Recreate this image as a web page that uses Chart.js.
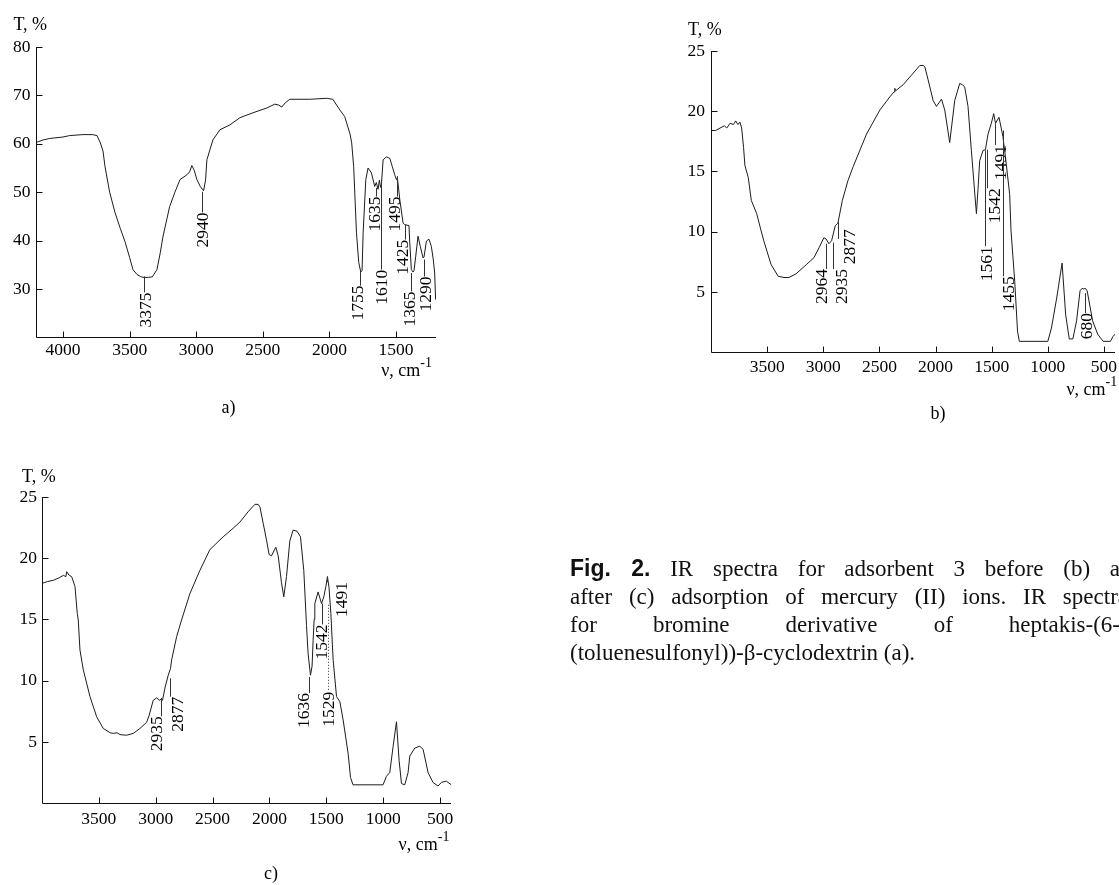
<!DOCTYPE html>
<html>
<head>
<meta charset="utf-8">
<script src="https://cdn.jsdelivr.net/npm/chart.js@4.4.0/dist/chart.umd.min.js"></script>
<style>
  html, body { margin: 0; padding: 0; background: #fff; }
  body { width: 1119px; height: 885px; position: relative; overflow: hidden; }
  canvas { position: absolute; left: 0; top: 0; }
  #caption { position: absolute; left: 570px; top: 554px; width: 600px;
             font: 23px/28px 'Liberation Serif', 'Times New Roman', serif; color: #111; }
  #caption p { margin: 0; text-align: justify; }
  #caption p.j { text-align-last: justify; }
  #caption b { font-family: 'Liberation Sans', Arial, sans-serif; }
</style>
</head>
<body>
<canvas id="chartA" width="1119" height="885"></canvas>
<canvas id="chartB" width="1119" height="885"></canvas>
<canvas id="chartC" width="1119" height="885"></canvas>
<div id="caption">
  <p class="j" style="width:573px"><b>Fig. 2.</b> IR spectra for adsorbent 3 before (b) and</p>
  <p class="j" style="width:558px">after (c) adsorption of mercury (II) ions. IR spectra</p>
  <p class="j" style="width:550px">for bromine derivative of heptakis-(6-</p>
  <p>(toluenesulfonyl))-β-cyclodextrin (a).</p>
</div>
<script>
// a) bromine derivative of heptakis-(6-(toluenesulfonyl))-b-cyclodextrin
const nuA = [4200, 4150, 4100, 4000, 3950, 3850, 3780, 3745, 3720, 3700, 3685, 3660, 3650, 3610, 3570, 3535,
  3500, 3475, 3445, 3420, 3400, 3360, 3330, 3295, 3270, 3250, 3220, 3200, 3160, 3122, 3070, 3050, 3033, 3015,
  2995, 2970, 2945, 2930, 2920, 2875, 2822, 2748, 2672, 2575, 2470, 2410, 2380, 2358, 2330, 2298, 2148, 2020,
  1975, 1922, 1885, 1862, 1845, 1833, 1818, 1797, 1780, 1765, 1755, 1747, 1727, 1710, 1685, 1660, 1648, 1635,
  1625, 1616, 1610, 1597, 1572, 1547, 1528, 1510, 1497, 1490, 1485, 1472, 1447, 1435, 1403, 1397, 1385, 1372,
  1365, 1352, 1335, 1318, 1297, 1290, 1272, 1253, 1235, 1220, 1210, 1203];
const tA = [60.3, 60.8, 61.1, 61.4, 61.7, 61.9, 61.9, 61.7, 60.2, 58.5, 55.3, 51.5, 50, 45.8, 42.5, 39.8,
  36.5, 34, 33, 32.6, 32.4, 32.4, 32.5, 34, 37.5, 40.8, 44.5, 47, 50, 52.6, 53.6, 54.2, 55.5, 54.5,
  52.6, 51.2, 50.3, 52.5, 56.7, 60.8, 62.9, 63.9, 65.4, 66.4, 67.4, 68.2, 68, 67.6, 68.5, 69.2, 69.2, 69.4,
  69.2, 67, 65.6, 63.5, 62, 60.2, 55.3, 41.6, 35.5, 33.5, 33.8, 41.6, 52.6, 55, 54, 51.2, 52, 50.6,
  52.5, 51, 51.5, 56.7, 57.3, 57, 55.3, 53.6, 52.6, 53, 51.8, 48.5, 43.6, 43.3, 43.1, 39.6, 34, 33.5,
  33.8, 36.8, 40.9, 38.8, 36.4, 36.6, 39.9, 40.3, 38.8, 36, 33.3, 27.8];
const peaksA = [3375, 2940, 1755, 1635, 1610, 1495, 1425, 1365, 1290];

// b) adsorbent 3 before adsorption
const nuB = [4000, 3960, 3920, 3880, 3860, 3830, 3800, 3780, 3760, 3742, 3727, 3710, 3698, 3668, 3641, 3593,
  3560, 3530, 3466, 3402, 3350, 3306, 3243, 3147, 3083, 3036, 2995, 2975, 2950, 2926, 2893, 2870, 2830, 2780,
  2734, 2615, 2496, 2407, 2370, 2363, 2355, 2289, 2214, 2140, 2110, 2096, 2066, 2022, 1992, 1947, 1918, 1874,
  1829, 1785, 1760, 1740, 1711, 1681, 1651, 1636, 1622, 1607, 1577, 1556, 1533, 1503, 1482, 1466, 1435, 1400,
  1370, 1340, 1328, 1295, 1270, 1254, 1000, 968, 921, 873, 841, 809, 777, 744, 713, 695, 681, 665,
  650, 601, 556, 507, 443, 420, 400];
const tB = [18.4, 18.4, 18.6, 18.8, 18.6, 19.0, 18.9, 19.2, 18.9, 19.1, 18.6, 17, 15.5, 14.5, 12.6, 11.5,
  10.3, 9.25, 7.3, 6.3, 6.2, 6.2, 6.5, 7.3, 7.85, 8.7, 9.5, 9.4, 9.0, 9.25, 10.5, 10.7, 12.6, 14.25,
  15.4, 18.1, 20.1, 21.2, 21.6, 21.9, 21.7, 22.2, 23, 23.8, 23.8, 23.7, 22.6, 20.9, 20.4, 21, 20.1, 17.4,
  20.9, 22.3, 22.2, 22.0, 20.4, 16.75, 13.2, 11.5, 13.5, 15.9, 16.75, 16.8, 18.1, 19, 19.8, 19, 19.5, 17.9,
  15.6, 13.1, 10.1, 5.9, 1.75, 0.9, 0.9, 2.0, 4.5, 7.4, 3.1, 1.1, 1.1, 2.6, 5.1, 5.3, 5.25, 5.3,
  5.1, 2.6, 1.5, 0.9, 0.9, 1.3, 1.5];
const peaksB = [2964, 2935, 2877, 1561, 1542, 1491, 1455, 680];

// c) adsorbent 3 after adsorption of Hg(II)
const nuC = [4000, 3950, 3900, 3850, 3812, 3790, 3783, 3760, 3739, 3710, 3690, 3681, 3666, 3637, 3578, 3519,
  3461, 3400, 3373, 3340, 3314, 3256, 3197, 3139, 3080, 3057, 3022, 2992, 2969, 2950, 2940, 2919, 2890, 2870,
  2860, 2816, 2773, 2700, 2612, 2524, 2407, 2319, 2260, 2187, 2128, 2100, 2084, 2055, 2026, 2003, 1982, 1944,
  1923, 1894, 1874, 1850, 1821, 1792, 1757, 1727, 1698, 1674, 1660, 1639, 1625, 1616, 1607, 1601, 1572, 1542,
  1522, 1504, 1490, 1476, 1460, 1440, 1410, 1381, 1352, 1308, 1287, 1265, 1001, 971, 942, 913, 883, 860,
  839, 810, 781, 766, 722, 678, 649, 605, 562, 518, 488, 444, 430, 400];
const tC = [17.95, 18.1, 18.2, 18.4, 18.6, 18.5, 18.9, 18.6, 18.5, 17.7, 15.5, 14.95, 12.5, 10.9, 8.7, 7.05,
  6.1, 5.75, 5.7, 5.75, 5.6, 5.55, 5.7, 6.1, 6.6, 7.2, 8.4, 8.6, 8.4, 8.5, 8.4, 9.4, 10.45, 11,
  11.7, 13.6, 14.95, 17.1, 19, 20.7, 21.75, 22.45, 22.95, 23.8, 24.4, 24.4, 24.2, 22.85, 21.5, 20.3, 20.2, 20.9,
  20.2, 18.0, 16.85, 18.5, 21.4, 22.3, 22.2, 21.75, 19, 14.5, 12.2, 10.45, 11.2, 13.3, 15, 16.3, 17.25, 16.3,
  16.85, 17.7, 18.5, 17.6, 15.5, 11.7, 8.7, 8.3, 6.8, 4.05, 2.1, 1.5, 1.5, 2.2, 2.5, 4.6, 6.65, 3.5,
  1.6, 1.5, 2.5, 3.85, 4.5, 4.65, 4.4, 2.5, 1.7, 1.4, 1.7, 1.8, 1.7, 1.5];
const peaksC = [2935, 2877, 1636, 1542, 1529, 1491];

const xTicksA = [4000, 3500, 3000, 2500, 2000, 1500];
const yTicksA = [30, 40, 50, 60, 70, 80];
const xTicksBC = [3500, 3000, 2500, 2000, 1500, 1000, 500];
const yTicksBC = [5, 10, 15, 20, 25];

// leader layout per peak label:
// [T at leader top, T at leader bottom, T at text top, text shift px, leader shift px, dotted]
const leadA = [[32.6, 29.3, 29.3, 6, -2], [50.1, 45.8, 45.8, 5, -2], [34, 30.7, 30.7, 2, -2],
  [50.9, 49.1, 49.1, 3, -2], [52.6, 34, 34, 5, 0], [53.3, 49.1, 49.1, 2, 0], [43.3, 40.2, 40.2, 2, -1],
  [33.3, 29.5, 29.5, 3, -3], [36.1, 32.6, 32.6, 6, 0]];
const leadB = [[9.0, 6.9, 6.9, 0, -1], [9.1, 6.9, 6.9, 13, 2], [10.8, 9.4, 10.2, 16, 1],
  [16.75, 8.8, 8.8, 6, 0], [16.8, 13.6, 13.6, 12, 0], [19, 17.2, 17.2, 10, 2], [18.4, 6.3, 6.3, 10, 6],
  [4.9, 3.25, 3.25, 6, 1]];
const leadC = [[8.6, 7.1, 7.1, 0, -2], [10.2, 8.7, 8.7, 12, 0], [10.3, 9.0, 9.0, -1, -2],
  [16.3, 14.6, 14.6, 4, 0], [16.2, 9.1, 9.1, 5, 5, true], [18.5, 18.05, 18.05, 19, 0]];

Chart.defaults.font.family = "'Liberation Serif', 'Times New Roman', serif";
Chart.defaults.color = '#000';

const SERIF = "'Liberation Serif', 'Times New Roman', serif";
const Y_W = 30, X_H = 40;

function framePlugin(o) {
  return {
    id: 'frame',
    afterDraw(chart) {
      const {ctx, chartArea: a, scales: {x, y}} = chart;
      ctx.save();
      ctx.strokeStyle = '#111';
      ctx.lineWidth = 1;
      const L = Math.round(a.left) + 0.5, B = Math.round(a.bottom) + 0.5;
      ctx.beginPath();
      ctx.moveTo(L, Math.round(a.top));
      ctx.lineTo(L, B);
      ctx.lineTo(Math.round(a.right), B);
      o.xTicks.forEach(v => {
        const px = Math.round(x.getPixelForValue(v)) + 0.5;
        ctx.moveTo(px, B); ctx.lineTo(px, B - 6);
      });
      o.yTicks.forEach(v => {
        const py = Math.round(y.getPixelForValue(v)) + 0.5;
        ctx.moveTo(L, py); ctx.lineTo(L + 6, py);
      });
      ctx.stroke();

      ctx.fillStyle = '#000';
      ctx.textBaseline = 'alphabetic';
      ctx.font = '18px ' + SERIF;
      ctx.textAlign = 'left';
      ctx.fillText('T, %', a.left + o.yTitle[0], a.top + o.yTitle[1]);

      const xr = a.right + o.xTitle[0], xb = a.bottom + o.xTitle[1];
      ctx.textAlign = 'right';
      ctx.font = '14px ' + SERIF;
      const supW = ctx.measureText('-1').width;
      ctx.fillText('-1', xr, xb - 9);
      ctx.font = '18px ' + SERIF;
      ctx.fillText('\u03BD, cm', xr - supW, xb);

      ctx.textAlign = 'center';
      ctx.fillText(o.tag, a.left + o.tagPos[0], a.bottom + o.tagPos[1]);

      // peak labels with leaders
      ctx.font = '17.5px ' + SERIF;
      ctx.strokeStyle = '#333';
      o.peaks.forEach((nu, i) => {
        const [t1, t2, t3, tdx, ldx, dotted] = o.lead[i];
        const lx = Math.round(x.getPixelForValue(nu) + ldx) + 0.5;
        ctx.beginPath();
        ctx.setLineDash(dotted ? [1, 2] : []);
        ctx.moveTo(lx, y.getPixelForValue(t1));
        ctx.lineTo(lx, y.getPixelForValue(t2));
        ctx.stroke();
        ctx.setLineDash([]);
        ctx.save();
        ctx.translate(lx + tdx, y.getPixelForValue(t3));
        ctx.rotate(-Math.PI / 2);
        ctx.textAlign = 'right';
        ctx.fillText(String(nu), 0, 0);
        ctx.restore();
      });
      ctx.restore();
    }
  };
}

function makePanel(id, nu, t, o) {
  return new Chart(document.getElementById(id), {
    type: 'line',
    data: {
      datasets: [{
        data: nu.map((v, i) => ({x: v, y: t[i]})),
        borderColor: '#1c1c1c',
        borderWidth: 1,
        pointRadius: 0,
        tension: 0,
        fill: false
      }]
    },
    options: {
      responsive: false,
      animation: false,
      devicePixelRatio: 1,
      events: [],
      layout: {
        padding: {
          left: o.area[0] - Y_W,
          top: o.area[1],
          right: 1119 - o.area[2],
          bottom: 885 - o.area[3] - X_H
        }
      },
      plugins: {legend: {display: false}, tooltip: {enabled: false}},
      scales: {
        x: {
          type: 'linear',
          reverse: true,
          min: o.xMin,
          max: o.xMax,
          afterBuildTicks: s => { s.ticks = o.xTicks.map(v => ({value: v})); },
          afterFit: s => { s.height = X_H; s.paddingLeft = 0; s.paddingRight = 0; },
          grid: {display: false, drawTicks: false},
          border: {display: false},
          ticks: {padding: o.xPad, font: {size: 17.5}, maxRotation: 0, autoSkip: false,
                  callback: v => String(v)}
        },
        y: {
          type: 'linear',
          min: o.yMin,
          max: o.yMax,
          afterBuildTicks: s => { s.ticks = o.yTicks.map(v => ({value: v})); },
          afterFit: s => { s.width = Y_W; s.paddingTop = 0; s.paddingBottom = 0; },
          grid: {display: false, drawTicks: false},
          border: {display: false},
          ticks: {padding: o.yPad, font: {size: 17.5}, autoSkip: false, callback: v => String(v)}
        }
      }
    },
    plugins: [framePlugin(o)]
  });
}

makePanel('chartA', nuA, tA, {
  area: [36.4, 47, 436, 337.4], xMin: 1200, xMax: 4200, yMin: 20, yMax: 80,
  xTicks: xTicksA, yTicks: yTicksA, xPad: 3, yPad: 6,
  yTitle: [-23, -17.5], xTitle: [-4, 39], tag: 'a)', tagPos: [192, 76],
  peaks: peaksA, lead: leadA
});
makePanel('chartB', nuB, tB, {
  area: [711, 51, 1115.2, 352.2], xMin: 400, xMax: 4000, yMin: 0, yMax: 25,
  xTicks: xTicksBC, yTicks: yTicksBC, xPad: 5, yPad: 6,
  yTitle: [-23, -16], xTitle: [2, 43], tag: 'b)', tagPos: [227, 67],
  peaks: peaksB, lead: leadB
});
makePanel('chartC', nuC, tC, {
  area: [42, 497, 451.4, 803.2], xMin: 400, xMax: 4000, yMin: 0, yMax: 25,
  xTicks: xTicksBC, yTicks: yTicksBC, xPad: 6, yPad: 5,
  yTitle: [-20, -15], xTitle: [-2, 47], tag: 'c)', tagPos: [229, 76],
  peaks: peaksC, lead: leadC
});
</script>
</body>
</html>
